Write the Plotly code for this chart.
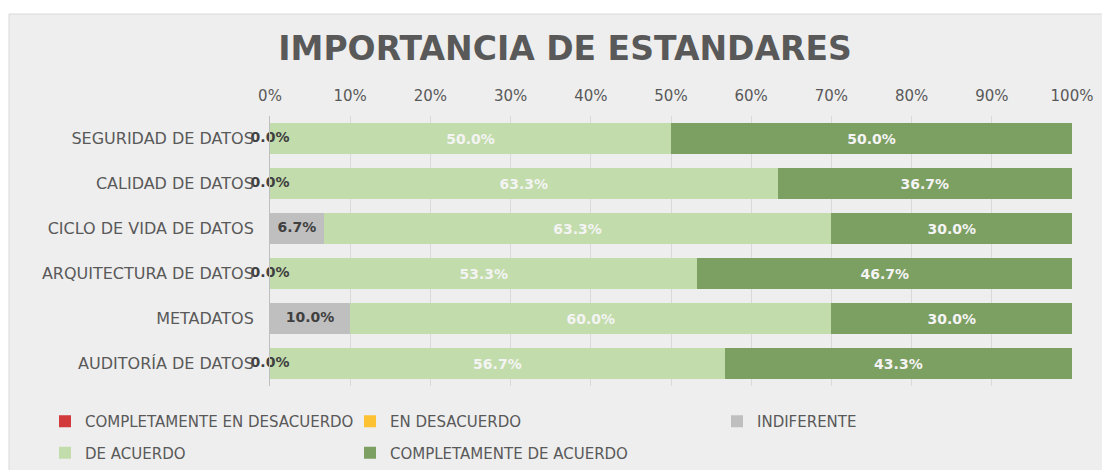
import plotly.graph_objects as go

categories = ["SEGURIDAD DE DATOS", "CALIDAD DE DATOS", "CICLO DE VIDA DE DATOS",
              "ARQUITECTURA DE DATOS", "METADATOS", "AUDITORÍA DE DATOS"]
series_names = ["COMPLETAMENTE EN DESACUERDO", "EN DESACUERDO", "INDIFERENTE",
                "DE ACUERDO", "COMPLETAMENTE DE ACUERDO"]
completamente_desacuerdo = [0.0, 0.0, 0.0, 0.0, 0.0, 0.0]
en_desacuerdo = [0.0, 0.0, 0.0, 0.0, 0.0, 0.0]
indiferente = [0.0, 0.0, 0.067, 0.0, 0.10, 0.0]
de_acuerdo = [0.50, 0.633, 0.633, 0.533, 0.60, 0.567]
completamente_acuerdo = [0.50, 0.367, 0.30, 0.467, 0.30, 0.433]
tick_vals = [0, 0.1, 0.2, 0.3, 0.4, 0.5, 0.6, 0.7, 0.8, 0.9, 1.0]

colors = ["#d23a3c", "#fcc234", "#bfbfbf", "#c2dcab", "#7c9f62"]
values = [completamente_desacuerdo, en_desacuerdo, indiferente, de_acuerdo, completamente_acuerdo]
legend_of = ["legend", "legend2", "legend3", "legend", "legend2"]

FONT = "DejaVu Sans"
TXT = "#595959"

fig = go.Figure()
for i, (name, vals) in enumerate(zip(series_names, values)):
    show_text = i >= 3
    fig.add_trace(go.Bar(
        y=categories, x=vals, name=name, orientation="h",
        marker=dict(color=colors[i], line=dict(width=0)),
        text=[f"{v*100:.1f}%" for v in vals] if show_text else None,
        textposition="inside" if show_text else "none",
        insidetextanchor="middle",
        textfont=dict(family=FONT, size=14, color="#f4f4f4", weight="bold"),
        legend=legend_of[i], legendgroup=name,
        hoverinfo="skip",
    ))

# labels for INDIFERENTE (centered on their segment, also for zero values)
ind_start = [a + b for a, b in zip(completamente_desacuerdo, en_desacuerdo)]
fig.add_trace(go.Scatter(
    y=categories, x=[s + v / 2 for s, v in zip(ind_start, indiferente)],
    mode="text", text=[f"{v*100:.1f}%" for v in indiferente],
    textfont=dict(family=FONT, size=14, color="#404040", weight="bold"),
    showlegend=False, cliponaxis=False, hoverinfo="skip",
))

# page body has an 8px margin; figure coordinates are page coordinates minus 8
OFF = 8
W, H = 1110 - OFF, 470 - OFF
l, r, t, b = 270 - OFF, 38, 116 - OFF, 84
pw, ph = W - l - r, H - t - b

legend_common = dict(xref="container", yref="container", xanchor="left", yanchor="top",
                     orientation="v", bgcolor="rgba(0,0,0,0)",
                     font=dict(family=FONT, size=15, color=TXT), itemwidth=30)

fig.update_layout(
    width=W, height=H,
    barmode="stack", bargap=0.33,
    margin=dict(l=l, r=r, t=t, b=b, autoexpand=False),
    paper_bgcolor="white", plot_bgcolor="rgba(0,0,0,0)",
    font=dict(family=FONT, size=15, color=TXT),
    title=dict(text="IMPORTANCIA DE ESTANDARES", x=(565 - OFF) / W, xref="container",
               xanchor="center", y=1 - (48 - OFF) / H, yref="container", yanchor="middle",
               font=dict(family=FONT, size=33, color=TXT, weight="bold")),
    xaxis=dict(range=[0, 1], side="top", tickvals=tick_vals, tickformat=".0%",
               showgrid=True, gridcolor="#d9d9d9", gridwidth=1, zeroline=False,
               showline=False, ticks="", ticklabelstandoff=11, automargin=False,
               tickfont=dict(family=FONT, size=15, color=TXT)),
    yaxis=dict(categoryorder="array", categoryarray=categories[::-1],
               showline=True, linecolor="#bfbfbf", linewidth=1, ticks="",
               ticklabelstandoff=12, showgrid=False, automargin=False,
               tickfont=dict(family=FONT, size=16, color=TXT)),
    legend=dict(x=(45 - OFF) / W, y=1 - (405 - OFF) / H, tracegroupgap=9, **legend_common),
    legend2=dict(x=(350 - OFF) / W, y=1 - (405 - OFF) / H, tracegroupgap=9, **legend_common),
    legend3=dict(x=(717 - OFF) / W, y=1 - (405 - OFF) / H, **legend_common),
    shapes=[dict(type="rect", xref="paper", yref="paper", layer="below",
                 x0=(9 - OFF - l) / pw, x1=(W + 5 - l) / pw,
                 y0=(t + ph - (H + 5)) / ph, y1=1 + (t - (14 - OFF)) / ph,
                 fillcolor="#eeeeee", line=dict(color="#d9d9d9", width=1))],
)

fig.write_html("out.html")
